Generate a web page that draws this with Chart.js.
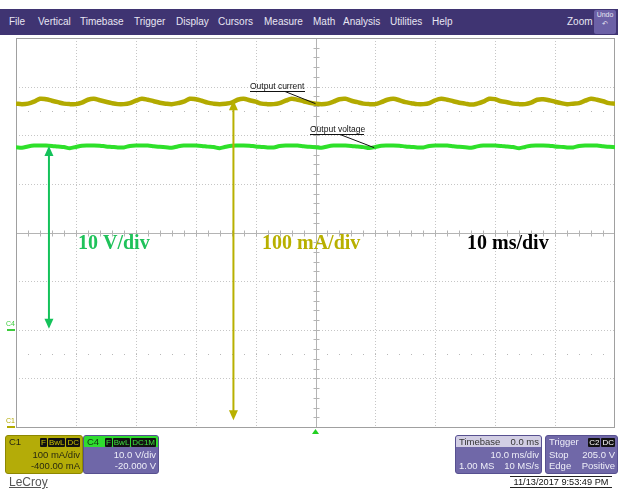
<!DOCTYPE html>
<html><head><meta charset="utf-8">
<script src="https://cdn.jsdelivr.net/npm/chart.js@4/dist/chart.umd.min.js"></script>
<style>
body{margin:0;background:#fff;}
#wrap{position:relative;width:618px;height:491px;overflow:hidden;font-family:"Liberation Sans",Arial,sans-serif;}
#c{position:absolute;left:0;top:0;}
.menu{position:absolute;left:0;top:9px;width:618px;height:26px;background:#3f3472;}
.mi{position:absolute;top:7px;color:#e8e6f2;font-size:10px;line-height:12px;}
.undo{position:absolute;left:594px;top:1px;width:22px;height:24px;background:#6c61a6;border-radius:2px;color:#e8e6f2;font-size:7px;text-align:center;line-height:9px;}
.box{position:absolute;top:435px;height:37px;border-radius:3px;font-size:9.5px;line-height:10px;overflow:hidden;}
.row{position:absolute;left:3px;right:2px;height:10px;white-space:nowrap;}
.r{position:absolute;right:0;}
.l{position:absolute;left:0;}
.bd{display:inline-block;background:#111;padding:0 1px;margin-left:1px;border-radius:1px;font-size:8px;line-height:9px;}
</style></head>
<body><div id="wrap">
<canvas id="c" width="618" height="491"></canvas>
<div class="menu">
 <span class="mi" style="left:9px">File</span>
 <span class="mi" style="left:38px">Vertical</span>
 <span class="mi" style="left:80px">Timebase</span>
 <span class="mi" style="left:134px">Trigger</span>
 <span class="mi" style="left:176px">Display</span>
 <span class="mi" style="left:218px">Cursors</span>
 <span class="mi" style="left:264px">Measure</span>
 <span class="mi" style="left:313px">Math</span>
 <span class="mi" style="left:343px">Analysis</span>
 <span class="mi" style="left:390px">Utilities</span>
 <span class="mi" style="left:432px">Help</span>
 <span class="mi" style="left:567px">Zoom</span>
 <div class="undo">Undo<br>&#x21B6;</div>
</div>
<div class="box" style="left:5px;width:76px;background:#b4ac08;border:1px solid #8d8700;color:#2a2a10;">
 <div class="row" style="top:1px"><span class="l">C1</span><span class="r"><span class="bd" style="color:#c8c000">F</span><span class="bd" style="color:#c8c000">BwL</span><span class="bd" style="color:#c8c000">DC</span></span></div>
 <div class="row" style="top:14px"><span class="r">100 mA/div</span></div>
 <div class="row" style="top:25px"><span class="r">-400.00 mA</span></div>
</div>
<div class="box" style="left:83px;width:74px;background:#6f67a8;border:1px solid #575090;color:#eeeef8;">
 <div style="position:absolute;left:0;top:0;right:0;height:11px;background:#2fdc2f;"></div>
 <div class="row" style="top:1px;color:#113311"><span class="l">C4</span><span class="r"><span class="bd" style="color:#3ee03e">F</span><span class="bd" style="color:#3ee03e">BwL</span><span class="bd" style="color:#3ee03e">DC1M</span></span></div>
 <div class="row" style="top:14px"><span class="r">10.0 V/div</span></div>
 <div class="row" style="top:25px"><span class="r">-20.000 V</span></div>
</div>
<div class="box" style="left:455px;width:85px;background:#7068a8;border:1px solid #575090;color:#eeeef8;">
 <div style="position:absolute;left:0;top:0;right:0;height:11px;background:#d2cee4;"></div>
 <div class="row" style="top:1px;color:#333"><span class="l">Timebase</span><span class="r">0.0 ms</span></div>
 <div class="row" style="top:14px"><span class="r">10.0 ms/div</span></div>
 <div class="row" style="top:25px"><span class="l">1.00 MS</span><span class="r">10 MS/s</span></div>
</div>
<div class="box" style="left:545px;width:71px;background:#7068a8;border:1px solid #575090;color:#eeeef8;">
 <div class="row" style="top:1px"><span class="l">Trigger</span><span class="r"><span class="bd" style="color:#fff">C2</span><span class="bd" style="color:#fff">DC</span></span></div>
 <div class="row" style="top:14px"><span class="l">Stop</span><span class="r">205.0 V</span></div>
 <div class="row" style="top:25px"><span class="l">Edge</span><span class="r">Positive</span></div>
</div>
<div style="position:absolute;left:9px;top:475px;font-size:12px;color:#555;text-decoration:underline;">LeCroy</div>
<div style="position:absolute;left:510px;top:476px;width:102px;height:10px;border-top:1px solid #222;border-bottom:1px solid #222;font-size:9.2px;line-height:10px;color:#111;text-align:center;white-space:nowrap;">11/13/2017 9:53:49 PM</div>
</div>
<script>
// time axis (ms), 1 ms samples, trigger at 0
const timeMs = [];
for (let t = -50; t <= 50; t++) timeMs.push(t);
// C1: output current (mA)
const currentMA = [
 665,664,665,669,675,674,671,668,665,664,664,667,673,675,672,669,666,664,664,666,671,675,673,670,667,
 665,664,666,669,675,674,671,667,665,664,665,667,673,675,672,669,665,664,664,666,671,675,673,670,667,
 665,664,665,669,674,675,671,668,665,664,664,668,673,675,672,668,666,664,664,666,672,675,673,670,667,
 665,663,665,669,675,674,670,668,665,664,664,667,673,674,672,669,666,664,665,666,671,675,673,670,666,
 665];
// C4: output voltage (V)
const voltageV = [
 37.55,37.45,37.70,37.87,37.90,37.88,37.80,37.67,37.57,37.35,37.60,37.85,37.90,37.90,37.85,37.70,37.60,37.50,37.50,37.78,37.90,37.90,37.87,37.75,37.63,
 37.55,37.45,37.70,37.88,37.90,37.88,37.80,37.66,37.57,37.35,37.62,37.85,37.90,37.91,37.85,37.70,37.60,37.50,37.48,37.78,37.90,37.90,37.87,37.75,37.63,
 37.55,37.44,37.70,37.87,37.91,37.88,37.80,37.67,37.56,37.36,37.60,37.85,37.90,37.90,37.84,37.70,37.60,37.50,37.50,37.78,37.89,37.90,37.87,37.75,37.63,
 37.55,37.45,37.71,37.87,37.90,37.88,37.79,37.67,37.57,37.35,37.60,37.86,37.90,37.90,37.85,37.70,37.61,37.50,37.50,37.78,37.90,37.90,37.87,37.75,37.63,
 37.55];
// grid / division ticks
const xDivs = [-50,-40,-30,-20,-10,0,10,20,30,40,50];
const iDivs = [0,100,200,300,400,500,600,700,800];
const labels = {volt:'10 V/div', amp:'100 mA/div', time:'10 ms/div', cur:'Output current', vol:'Output voltage'};

const C_CUR = '#b2aa00', C_VOL = '#2ee02a', C_GARROW = '#14c25a', C_YARROW = '#b8b000';

function arrowHead(ctx, x, y, dir, col){
  ctx.fillStyle = col; ctx.beginPath();
  ctx.moveTo(x, y); ctx.lineTo(x-4.5, y - dir*10); ctx.lineTo(x+4.5, y - dir*10); ctx.closePath(); ctx.fill();
}
const scope = {
  id:'scope',
  beforeDatasetsDraw(chart){
    const {ctx, chartArea:a, scales:{x, yI}} = chart;
    ctx.save();
    ctx.lineWidth = 1;
    ctx.strokeStyle = '#c6c6c6'; ctx.setLineDash([1,2]);
    xDivs.forEach(t => { if (t===0||t===-50||t===50) return; const px = Math.round(x.getPixelForValue(t))+0.5;
      ctx.beginPath(); ctx.moveTo(px,a.top); ctx.lineTo(px,a.bottom); ctx.stroke(); });
    iDivs.forEach(v => { if (v===400||v===0||v===800) return; const py = Math.round(yI.getPixelForValue(v))+0.5;
      ctx.beginPath(); ctx.moveTo(a.left,py); ctx.lineTo(a.right,py); ctx.stroke(); });
    ctx.setLineDash([]);
    // sparse dot rows
    ctx.fillStyle = '#b8b8b8';
    [650,150].forEach(v => { const py = Math.round(yI.getPixelForValue(v));
      for (let t=-48; t<50; t+=2){ ctx.fillRect(Math.round(x.getPixelForValue(t)), py, 1, 1); } });
    // centre crosshair with ticks
    const cx = Math.round(x.getPixelForValue(0))+0.5, cy = Math.round(yI.getPixelForValue(400))+0.5;
    ctx.strokeStyle = '#b4b4b4';
    ctx.beginPath(); ctx.moveTo(a.left,cy); ctx.lineTo(a.right,cy); ctx.moveTo(cx,a.top); ctx.lineTo(cx,a.bottom); ctx.stroke();
    ctx.beginPath();
    for (let t=-48; t<50; t+=2){ const px = Math.round(x.getPixelForValue(t))+0.5; ctx.moveTo(px,cy-3); ctx.lineTo(px,cy+3); }
    for (let v=20; v<800; v+=20){ const py = Math.round(yI.getPixelForValue(v))+0.5; ctx.moveTo(cx-3,py); ctx.lineTo(cx+3,py); }
    ctx.stroke();
    // border
    ctx.strokeStyle = '#a0a0a0';
    ctx.strokeRect(Math.round(a.left)+0.5, Math.round(a.top)+0.5, Math.round(a.right-a.left)-1, Math.round(a.bottom-a.top));
    ctx.restore();
  },
  afterDatasetsDraw(chart){
    const {ctx, chartArea:a, scales:{x, yI, yV}} = chart;
    ctx.save();
    // green arrow (voltage amplitude)
    const gx = x.getPixelForValue(-44.5), gTop = yV.getPixelForValue(37.8), gBot = yV.getPixelForValue(0.2);
    ctx.strokeStyle = C_GARROW; ctx.lineWidth = 2;
    ctx.beginPath(); ctx.moveTo(gx, gTop+8); ctx.lineTo(gx, gBot-8); ctx.stroke();
    arrowHead(ctx, gx, gTop, -1, C_GARROW); arrowHead(ctx, gx, gBot, 1, C_GARROW);
    // yellow arrow (current amplitude)
    const yx = x.getPixelForValue(-13.7), yTop = yI.getPixelForValue(672), yBot = yI.getPixelForValue(14);
    ctx.strokeStyle = C_YARROW;
    ctx.beginPath(); ctx.moveTo(yx, yTop+8); ctx.lineTo(yx, yBot-8); ctx.stroke();
    arrowHead(ctx, yx, yTop, -1, C_YARROW); arrowHead(ctx, yx, yBot, 1, C_YARROW);
    // big labels
    ctx.font = 'bold 20px "Liberation Serif", "Times New Roman", serif';
    ctx.textBaseline = 'alphabetic';
    ctx.fillStyle = '#1fc25a'; ctx.fillText(labels.volt, 78, 249);
    ctx.fillStyle = '#b8b000'; ctx.fillText(labels.amp, 262, 249);
    ctx.fillStyle = '#000'; ctx.fillText(labels.time, 467, 249);
    // trace annotations
    ctx.font = '8.5px "Liberation Sans", Arial, sans-serif';
    ctx.fillStyle = '#111'; ctx.strokeStyle = '#111'; ctx.lineWidth = 1;
    ctx.fillText(labels.cur, 250, 89);
    ctx.beginPath(); ctx.moveTo(250, 91.5); ctx.lineTo(305, 91.5);
    ctx.moveTo(285, 91.5); ctx.lineTo(x.getPixelForValue(0), yI.getPixelForValue(665)); ctx.stroke();
    ctx.fillText(labels.vol, 310, 132);
    ctx.beginPath(); ctx.moveTo(310, 134.5); ctx.lineTo(364, 134.5);
    ctx.moveTo(340, 134.5); ctx.lineTo(x.getPixelForValue(9.8), yV.getPixelForValue(37.45)); ctx.stroke();
    // channel ground markers
    ctx.font = '7px "Liberation Sans", Arial, sans-serif';
    const g4 = Math.round(yV.getPixelForValue(0)), g1 = Math.round(yI.getPixelForValue(0));
    ctx.fillStyle = '#3ccc3c'; ctx.fillText('C4', 6, g4-4); ctx.fillRect(7, g4-1, 8, 2);
    ctx.fillStyle = '#b2aa00'; ctx.fillText('C1', 6, g1-4); ctx.fillRect(7, g1-1, 8, 2);
    // trigger marker
    const tx = x.getPixelForValue(0);
    ctx.fillStyle = '#22d022'; ctx.beginPath();
    ctx.moveTo(tx, a.bottom+2); ctx.lineTo(tx-3.5, a.bottom+7); ctx.lineTo(tx+3.5, a.bottom+7); ctx.closePath(); ctx.fill();
    ctx.restore();
  }
};

new Chart(document.getElementById('c'), {
  type:'line',
  data:{ datasets:[
    { label:'C1 Output current', data: timeMs.map((t,i)=>({x:t, y:currentMA[i]})), yAxisID:'yI',
      borderColor:C_CUR, borderWidth:4.5, pointRadius:0, tension:0.35, fill:false },
    { label:'C4 Output voltage', data: timeMs.map((t,i)=>({x:t, y:voltageV[i]})), yAxisID:'yV',
      borderColor:C_VOL, borderWidth:4, pointRadius:0, tension:0.35, fill:false }
  ]},
  options:{
    responsive:false, animation:false, devicePixelRatio:1,
    layout:{ padding:{ left:16, top:38, right:3, bottom:64 } },
    plugins:{ legend:{display:false}, tooltip:{enabled:false} },
    scales:{
      x:{ type:'linear', min:-50, max:50, display:false },
      yI:{ type:'linear', min:0, max:800, display:false },
      yV:{ type:'linear', min:-20, max:60, display:false }
    }
  },
  plugins:[scope]
});
</script>
</body></html>
